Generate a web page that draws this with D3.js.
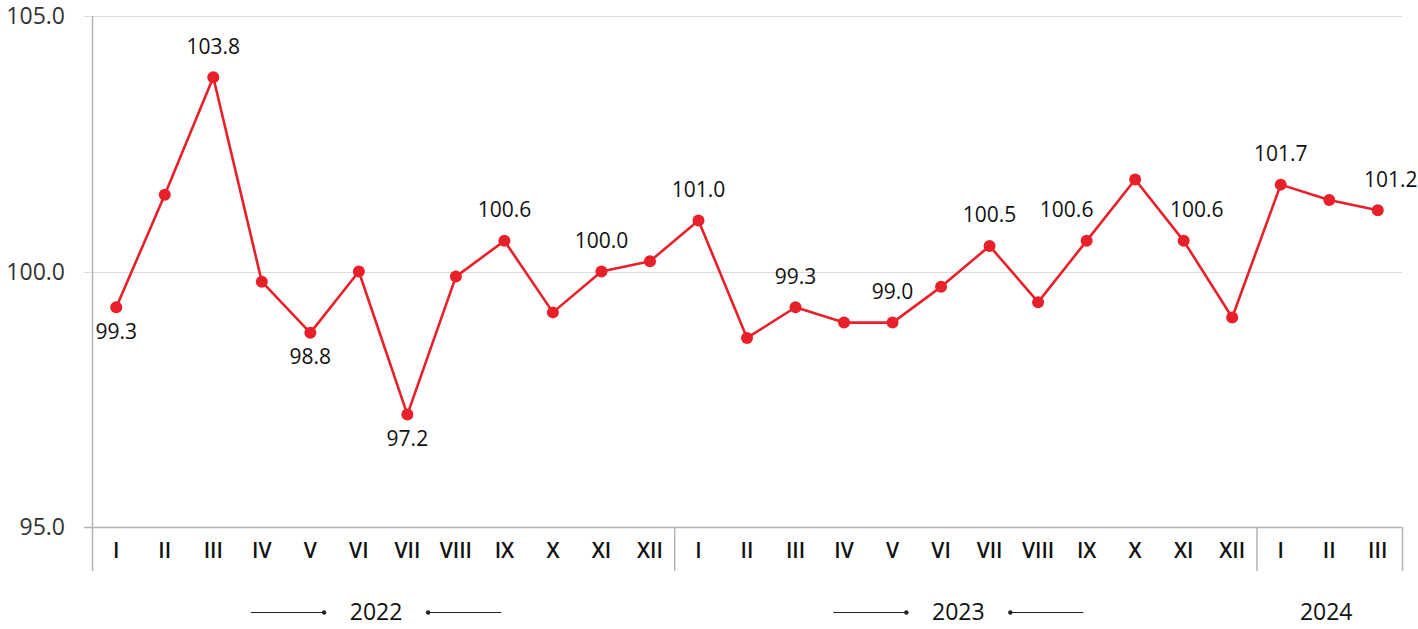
<!DOCTYPE html>
<html>
<head>
<meta charset="utf-8">
<script src="https://cdn.jsdelivr.net/npm/d3@7"></script>
<style>
  body { margin: 0; background: #fff; }
  svg { display: block; font-family: "Open Sans", "Noto Sans", sans-serif; }
</style>
</head>
<body>
<div id="chart"></div>
<script>
// monthly index, previous month = 100
const months = ["I","II","III","IV","V","VI","VII","VIII","IX","X","XI","XII",
                "I","II","III","IV","V","VI","VII","VIII","IX","X","XI","XII",
                "I","II","III"];
const years = ["2022", "2023", "2024"];
const yearLengths = [12, 12, 3];
const values = [99.3, 101.5, 103.8, 99.8, 98.8, 100.0, 97.2, 99.9, 100.6, 99.2, 100.0, 100.2,
                101.0, 98.7, 99.3, 99.0, 99.0, 99.7, 100.5, 99.4, 100.6, 101.8, 100.6, 99.1,
                101.7, 101.4, 101.2];
const yTicks = [95, 100, 105];
// which points carry a value label, and where
const labelIdx = [0, 2, 4, 6, 8, 10, 12, 14, 16, 18, 20, 22, 24, 26];
const labelSide = ["below", "above", "below", "below", "above", "above", "above", "above", "above", "above", "left", "right", "above", "right"];

const width = 1418, height = 629;
const margin = { top: 16, right: 16, bottom: 102, left: 92 };

const svg = d3.select("#chart").append("svg")
    .attr("width", width)
    .attr("height", height);

const x = d3.scaleBand()
    .domain(d3.range(months.length))
    .range([margin.left, width - margin.right])
    .paddingInner(0).paddingOuter(0);

const y = d3.scaleLinear()
    .domain([95, 105])
    .range([height - margin.bottom, margin.top]);

const cx = i => x(i) + x.bandwidth() / 2;

// gridlines
svg.append("g")
    .selectAll("line")
    .data(yTicks)
    .join("line")
    .attr("x1", margin.left - 8)
    .attr("x2", width - margin.right)
    .attr("y1", d => Math.round(y(d)) + 0.5)
    .attr("y2", d => Math.round(y(d)) + 0.5)
    .attr("stroke", d => d === 95 ? "#b4b4b4" : "#dcdcdc")
    .attr("stroke-width", d => d === 95 ? 1.5 : 1);

// y tick labels
svg.append("g")
    .selectAll("text")
    .data(yTicks)
    .join("text")
    .attr("x", 65)
    .attr("y", d => y(d))
    .attr("dy", "0.35em")
    .attr("text-anchor", "end")
    .style("font-size", "23px")
    .style("fill", "#333")
    .text(d => d.toFixed(1));

// vertical axis and year separators
const bottomY = height - margin.bottom;
const sepIdx = [0];
let acc = 0;
yearLengths.forEach(n => { acc += n; sepIdx.push(acc); });

svg.append("line")
    .attr("x1", margin.left + 0.5).attr("x2", margin.left + 0.5)
    .attr("y1", margin.top).attr("y2", bottomY + 44)
    .attr("stroke", "#b4b4b4").attr("stroke-width", 1.5);

svg.append("g")
    .selectAll("line")
    .data(sepIdx.slice(1))
    .join("line")
    .attr("x1", d => (d < months.length ? x(d) : width - margin.right) + 0.5)
    .attr("x2", d => (d < months.length ? x(d) : width - margin.right) + 0.5)
    .attr("y1", bottomY)
    .attr("y2", bottomY + 44)
    .attr("stroke", "#b4b4b4").attr("stroke-width", 1.5);

// month labels
svg.append("g")
    .selectAll("text")
    .data(months)
    .join("text")
    .attr("x", (d, i) => cx(i))
    .attr("y", bottomY + 24)
    .attr("dy", "0.35em")
    .attr("text-anchor", "middle")
    .style("font-size", "21px")
    .style("font-weight", 600)
    .style("fill", "#111")
    .text(d => d);

// year labels with arrows
const yearG = svg.append("g");
years.forEach((yr, k) => {
    const x0 = x(sepIdx[k]);
    const x1 = sepIdx[k + 1] < months.length ? x(sepIdx[k + 1]) : width - margin.right;
    const mid = (x0 + x1) / 2 - (k < 2 ? 7 : 3);
    const ty = bottomY + 85;
    yearG.append("text")
        .attr("x", mid)
        .attr("y", ty)
        .attr("dy", "0.35em")
        .attr("text-anchor", "middle")
        .style("font-size", "23px")
        .style("fill", "#111")
        .text(yr);
    if (yearLengths[k] >= 12) {
        [[-125, -52], [52, 125]].forEach(([a, b]) => {
            yearG.append("line")
                .attr("x1", mid + a).attr("x2", mid + b)
                .attr("y1", ty + 0.5).attr("y2", ty + 0.5)
                .attr("stroke", "#222").attr("stroke-width", 1);
            yearG.append("circle")
                .attr("cx", a < 0 ? mid + b : mid + a)
                .attr("cy", ty + 0.5)
                .attr("r", 2.2)
                .attr("fill", "#222");
        });
    }
});

// line
const line = d3.line()
    .x((d, i) => cx(i))
    .y(d => y(d));

svg.append("path")
    .datum(values)
    .attr("d", line)
    .attr("fill", "none")
    .attr("stroke", "#e8202a")
    .attr("stroke-width", 2.6)
    .attr("stroke-linejoin", "round");

svg.append("g")
    .selectAll("circle")
    .data(values)
    .join("circle")
    .attr("cx", (d, i) => cx(i))
    .attr("cy", d => y(d))
    .attr("r", 6)
    .attr("fill", "#e8202a");

// value labels
const shiftX = { above: 0, below: 0, left: -20, right: 13 };
svg.append("g")
    .selectAll("text")
    .data(labelIdx)
    .join("text")
    .attr("x", (d, k) => cx(d) + shiftX[labelSide[k]])
    .attr("y", (d, k) => y(values[d]) + (labelSide[k] === "below" ? 24 : -31))
    .attr("dy", "0.35em")
    .attr("text-anchor", "middle")
    .style("font-size", "21px")
    .style("fill", "#111")
    .text(d => values[d].toFixed(1));
</script>
</body>
</html>
